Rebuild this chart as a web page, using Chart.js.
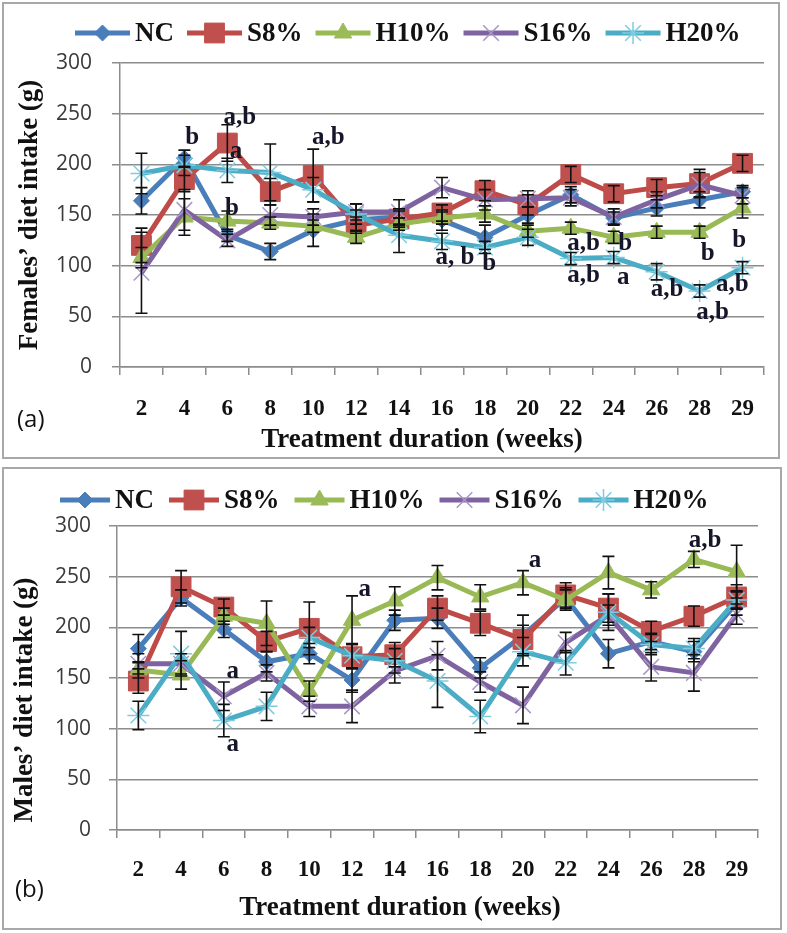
<!DOCTYPE html>
<html>
<head>
<meta charset="utf-8">
<script src="https://cdn.jsdelivr.net/npm/chart.js@4.4.1/dist/chart.umd.min.js"></script>
<style>
  body { margin: 0; background: #fff; width: 787px; height: 933px; position: relative; overflow: hidden; }
  .panel { position: absolute; border: 2px solid #a8a8a8; box-sizing: border-box; }
  #boxA { left: 2px; top: 2px; width: 778px; height: 457px; }
  #boxB { left: 2px; top: 467px; width: 780px; height: 463px; }
  canvas { position: absolute; display: block; }
  #chartA { left: 3px; top: 3px; }
  #chartB { left: 3px; top: 468px; }
</style>
</head>
<body>
<div class="panel" id="boxA"></div>
<div class="panel" id="boxB"></div>
<canvas id="chartA" width="776" height="455"></canvas>
<canvas id="chartB" width="778" height="461"></canvas>
<script>
// treatment weeks (x categories)
const weeks = ['2', '4', '6', '8', '10', '12', '14', '16', '18', '20', '22', '24', '26', '28', '29'];
const groups = ['NC', 'S8%', 'H10%', 'S16%', 'H20%'];

// (a) females' diet intake (g)
const femaleNC  = [164, 206, 130, 114, 135, 145, 148, 145, 128, 150, 170, 147, 157, 165, 173];
const femaleS8  = [120, 185, 221, 173, 189, 140, 146, 152, 174, 160, 190, 171, 177, 181, 201];
const femaleH10 = [108, 148, 144, 142, 139, 128, 141, 147, 151, 134, 137, 128, 133, 133, 157];
const femaleS16 = [93, 155, 125, 150, 148, 153, 153, 177, 165, 166, 167, 148, 165, 180, 169];
const femaleH20 = [191, 199, 194, 192, 175, 151, 130, 124, 118, 128, 107, 108, 94, 75, 98];

// (a) error bars (+/-)
const femaleNCErr  = [13, 8, 6, 8, 16, 10, 8, 10, 12, 8, 8, 6, 8, 8, 6];
const femaleS8Err  = [17, 12, 18, 13, 26, 8, 8, 8, 10, 10, 8, 8, 8, 14, 8];
const femaleH10Err = [10, 18, 10, 6, 6, 6, 6, 6, 8, 6, 6, 6, 6, 6, 10];
const femaleS16Err = [40, 20, 6, 10, 8, 8, 12, 10, 10, 8, 8, 8, 8, 12, 8];
const femaleH20Err = [20, 10, 12, 28, 12, 10, 17, 8, 6, 8, 6, 6, 8, 6, 6];

// (b) males' diet intake (g)
const maleNC  = [179, 229, 198, 166, 174, 148, 207, 209, 160, 192, 229, 174, 186, 176, 224];
const maleS8  = [147, 240, 220, 186, 199, 171, 173, 219, 204, 188, 232, 219, 196, 211, 230];
const maleH10 = [158, 153, 211, 204, 137, 207, 226, 249, 230, 244, 227, 254, 237, 267, 255];
const maleS16 = [164, 164, 132, 155, 122, 122, 157, 172, 146, 123, 185, 212, 161, 155, 213];
const maleH20 = [113, 174, 108, 122, 190, 172, 167, 147, 112, 176, 165, 215, 183, 179, 227];

// (b) error bars (+/-)
const maleNCErr  = [14, 8, 8, 10, 10, 12, 10, 10, 10, 20, 10, 14, 8, 10, 12];
const maleS8Err  = [12, 16, 8, 10, 26, 12, 12, 12, 12, 14, 12, 14, 10, 10, 12];
const maleH10Err = [8, 14, 8, 22, 10, 24, 14, 12, 12, 12, 10, 16, 8, 8, 26];
const maleS16Err = [10, 10, 14, 8, 10, 16, 12, 14, 10, 18, 10, 10, 14, 18, 10];
const maleH20Err = [14, 22, 16, 14, 10, 12, 12, 26, 16, 14, 12, 18, 10, 10, 8];

// significance letters: [category index, value, text]
const femaleNotes = [
  [1.18, 226, 'b'], [2.29, 246, 'a,b'], [2.2, 213, 'a'], [2.11, 156, 'b'], [4.35, 226, 'a,b'],
  [7.3, 108, 'a, b'], [8.1, 102, 'b'], [10.3, 122, 'a,b'], [11.27, 122, 'b'], [10.3, 90, 'a,b'],
  [11.22, 88, 'a'], [12.24, 76, 'a,b'], [13.19, 112, 'b'], [13.92, 125, 'b'], [13.76, 81, 'a,b'],
  [13.3, 54, 'a,b']
];
const maleNotes = [
  [2.21, 156, 'a'], [2.21, 84, 'a'], [5.3, 237, 'a'], [9.28, 266, 'a'], [13.26, 286, 'a,b']
];

const yTicks = [0, 50, 100, 150, 200, 250, 300];

// look of each group
const looks = [
  { color: '#4a7ebb', fill: '#4a7ebb', mark: '#4a7ebb', style: 'rectRot', r: 8, bw: 1 },
  { color: '#be4b48', fill: '#c0504d', mark: '#c0504d', style: 'rect', r: 14, bw: 1 },
  { color: '#98b954', fill: '#9bbb59', mark: '#9bbb59', style: 'triangle', r: 10, bw: 1 },
  { color: '#7f63a1', fill: 'rgba(0,0,0,0)', mark: '#a897c8', style: 'crossRot', r: 11, bw: 1.5 },
  { color: '#4bacc6', fill: 'rgba(0,0,0,0)', mark: '#7fcbe0', style: 'star', r: 11, bw: 1.5 }
];

const serif = "'Liberation Serif', 'Times New Roman', serif";
const sans = "'Open Sans', 'Noto Sans', sans-serif";

function buildSets(values, errors) {
  return groups.map((name, k) => ({
    label: name,
    data: values[k],
    errors: errors[k],
    borderColor: looks[k].color,
    backgroundColor: looks[k].fill,
    pointBackgroundColor: looks[k].fill,
    pointBorderColor: looks[k].mark,
    pointBorderWidth: looks[k].bw,
    pointStyle: looks[k].style,
    pointRadius: looks[k].r,
    borderWidth: 5,
    tension: 0,
    order: 5 - k
  }));
}

function extras(cfg) {
  return {
    id: 'extras',
    afterDatasetsDraw(chart) {
      const { ctx, scales: { x, y } } = chart;
      ctx.save();
      ctx.strokeStyle = '#111';
      ctx.lineWidth = 1.6;
      chart.data.datasets.forEach(ds => {
        ds.data.forEach((v, i) => {
          const e = ds.errors[i];
          const px = x.getPixelForValue(i);
          const t = y.getPixelForValue(v + e), b = y.getPixelForValue(v - e);
          ctx.beginPath();
          ctx.moveTo(px, t); ctx.lineTo(px, b);
          ctx.moveTo(px - 6, t); ctx.lineTo(px + 6, t);
          ctx.moveTo(px - 6, b); ctx.lineTo(px + 6, b);
          ctx.stroke();
        });
      });
      // letters
      ctx.fillStyle = '#16162a';
      ctx.font = 'bold 25px ' + serif;
      ctx.textAlign = 'center';
      ctx.textBaseline = 'middle';
      cfg.notes.forEach(n => {
        ctx.fillText(n[2], x.getPixelForValue(n[0]), y.getPixelForValue(n[1]));
      });
      ctx.restore();
    },
    afterDraw(chart) {
      const { ctx, chartArea } = chart;
      ctx.save();
      // legend
      ctx.font = 'bold 27px ' + serif;
      ctx.textBaseline = 'middle';
      ctx.textAlign = 'left';
      let lx = cfg.legendX;
      const ly = cfg.legendY;
      chart.data.datasets.forEach((ds, k) => {
        ctx.strokeStyle = ds.borderColor;
        ctx.lineWidth = 5;
        ctx.beginPath();
        ctx.moveTo(lx, ly); ctx.lineTo(lx + cfg.lineLen, ly);
        ctx.stroke();
        ctx.fillStyle = ds.pointBackgroundColor;
        ctx.strokeStyle = ds.pointBorderColor;
        ctx.lineWidth = ds.pointBorderWidth;
        Chart.helpers.drawPoint(ctx, { pointStyle: ds.pointStyle, radius: ds.pointRadius, borderWidth: ds.pointBorderWidth, rotation: 0 }, lx + cfg.lineLen / 2, ly);
        ctx.fillStyle = '#111';
        ctx.fillText(ds.label, lx + cfg.lineLen + 5, ly + 1);
        lx += cfg.lineLen + 5 + ctx.measureText(ds.label).width + cfg.gap;
      });
      // axis titles
      ctx.fillStyle = '#111';
      ctx.textAlign = 'center';
      ctx.fillText('Treatment duration (weeks)', chartArea.left + cfg.xTitleDx, cfg.xTitleY);
      ctx.translate(cfg.yTitleX, cfg.yTitleY);
      ctx.rotate(-Math.PI / 2);
      ctx.fillText(cfg.yTitle, 0, 0);
      ctx.restore();
      // panel tag
      ctx.save();
      ctx.font = '24px ' + sans;
      ctx.fillStyle = '#111';
      ctx.textBaseline = 'middle';
      ctx.fillText(cfg.tag, cfg.tagX, cfg.tagY);
      ctx.restore();
    }
  };
}

function makeChart(id, values, errors, cfg) {
  return new Chart(document.getElementById(id), {
    type: 'line',
    data: { labels: weeks, datasets: buildSets(values, errors) },
    options: {
      responsive: false,
      animation: false,
      events: [],
      layout: { padding: cfg.padding },
      plugins: { legend: { display: false }, tooltip: { enabled: false } },
      scales: {
        x: {
          offset: true,
          grid: { offset: true, drawOnChartArea: false, drawTicks: true, tickLength: 8, color: '#8c8c8c', lineWidth: 1.5 },
          border: { color: '#8c8c8c', width: 1.5 },
          ticks: { color: '#111', font: { family: serif, size: 23, weight: 'bold' }, padding: cfg.xPad, maxRotation: 0, autoSkip: false },
          afterFit: s => { s.height = cfg.xHeight; }
        },
        y: {
          min: 0,
          max: 300,
          grid: { color: '#8c8c8c', lineWidth: 1.5, tickLength: 8 },
          border: { color: '#8c8c8c', width: 1.5 },
          afterBuildTicks: s => { s.ticks = yTicks.map(v => ({ value: v })); },
          ticks: { color: '#3a3a3a', font: { family: sans, size: 21 }, padding: cfg.yPad },
          afterFit: s => { s.width = cfg.yWidth; }
        }
      }
    },
    plugins: [extras(cfg)]
  });
}

makeChart('chartA',
  [femaleNC, femaleS8, femaleH10, femaleS16, femaleH20],
  [femaleNCErr, femaleS8Err, femaleH10Err, femaleS16Err, femaleH20Err],
  {
    notes: femaleNotes, padding: { top: 60, right: 9, left: 0, bottom: 0 },
    xHeight: 91, yWidth: 117, xPad: 20, yPad: 20,
    legendX: 72, legendY: 30, lineLen: 55, gap: 13,
    xTitleDx: 302, xTitleY: 437, yTitle: 'Females\u2019 diet intake (g)', yTitleX: 27, yTitleY: 212,
    tag: '(a)', tagX: 14, tagY: 417
  });

makeChart('chartB',
  [maleNC, maleS8, maleH10, maleS16, maleH20],
  [maleNCErr, maleS8Err, maleH10Err, maleS16Err, maleH20Err],
  {
    notes: maleNotes, padding: { top: 58, right: 23, left: 0, bottom: 0 },
    xHeight: 99, yWidth: 114, xPad: 18, yPad: 18,
    legendX: 57, legendY: 32, lineLen: 50, gap: 15,
    xTitleDx: 283, xTitleY: 440, yTitle: 'Males\u2019 diet intake (g)', yTitleX: 22, yTitleY: 232,
    tag: '(b)', tagX: 12, tagY: 422
  });
</script>
</body>
</html>
